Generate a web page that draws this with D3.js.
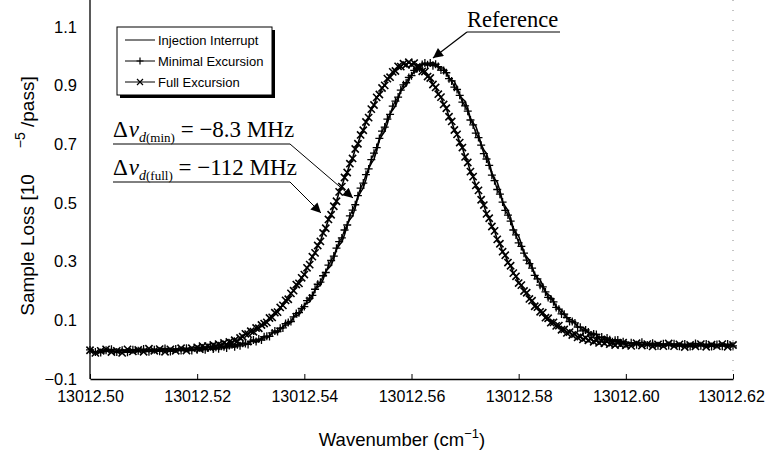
<!DOCTYPE html>
<html>
<head>
<meta charset="utf-8">
<script src="https://cdnjs.cloudflare.com/ajax/libs/d3/7.8.5/d3.min.js"></script>
<style>
  html, body { margin: 0; padding: 0; background: #fff; }
  svg { display: block; }
</style>
</head>
<body>
<svg id="chart" width="766" height="456"></svg>
<script>
// ---------------- DATA ----------------
const seriesNames = ["Injection Interrupt", "Minimal Excursion", "Full Excursion"];

const wavenumber = [
  13012.500,13012.501,13012.502,13012.503,13012.504,13012.505,13012.506,13012.507,13012.508,13012.509,
  13012.510,13012.511,13012.512,13012.513,13012.514,13012.515,13012.516,13012.517,13012.518,13012.519,
  13012.5200,13012.5205,13012.5210,13012.5215,13012.5220,13012.5225,13012.5230,13012.5235,13012.5240,13012.5245,
  13012.5250,13012.5255,13012.5260,13012.5265,13012.5270,13012.5275,13012.5280,13012.5285,13012.5290,13012.5295,
  13012.5300,13012.5305,13012.5310,13012.5315,13012.5320,13012.5325,13012.5330,13012.5335,13012.5340,13012.5345,
  13012.5350,13012.5355,13012.5360,13012.5365,13012.5370,13012.5375,13012.5380,13012.5385,13012.5390,13012.5395,
  13012.5400,13012.5405,13012.5410,13012.5415,13012.5420,13012.5425,13012.5430,13012.5435,13012.5440,13012.5445,
  13012.5450,13012.5455,13012.5460,13012.5465,13012.5470,13012.5475,13012.5480,13012.5485,13012.5490,13012.5495,
  13012.5500,13012.5505,13012.5510,13012.5515,13012.5520,13012.5525,13012.5530,13012.5535,13012.5540,13012.5545,
  13012.5550,13012.5555,13012.5560,13012.5565,13012.5570,13012.5575,13012.5580,13012.5585,13012.5590,13012.5595,
  13012.5600,13012.5605,13012.5610,13012.5615,13012.5620,13012.5625,13012.5630,13012.5635,13012.5640,13012.5645,
  13012.5650,13012.5655,13012.5660,13012.5665,13012.5670,13012.5675,13012.5680,13012.5685,13012.5690,13012.5695,
  13012.5700,13012.5705,13012.5710,13012.5715,13012.5720,13012.5725,13012.5730,13012.5735,13012.5740,13012.5745,
  13012.5750,13012.5755,13012.5760,13012.5765,13012.5770,13012.5775,13012.5780,13012.5785,13012.5790,13012.5795,
  13012.5800,13012.5805,13012.5810,13012.5815,13012.5820,13012.5825,13012.5830,13012.5835,13012.5840,13012.5845,
  13012.5850,13012.5855,13012.5860,13012.5865,13012.5870,13012.5875,13012.5880,13012.5885,13012.5890,13012.5895,
  13012.5900,13012.5905,13012.5910,13012.5915,13012.5920,13012.5925,13012.5930,13012.5935,13012.5940,13012.5945,
  13012.5950,13012.5955,13012.5960,13012.5965,13012.5970,13012.5975,13012.5980,13012.5985,13012.5990,13012.5995,
  13012.6000,
  13012.601,13012.602,13012.603,13012.604,13012.605,13012.606,13012.607,13012.608,13012.609,13012.610,
  13012.611,13012.612,13012.613,13012.614,13012.615,13012.616,13012.617,13012.618,13012.619,13012.620
];

const injectionInterrupt = [
  -0.004,-0.010,-0.001,-0.007,-0.002,-0.010,0.002,-0.007,-0.003,-0.007,0.001,-0.005,0.003,-0.007,0.000,-0.004,0.004,-0.004,0.003,-0.001,
  0.005,0.003,0.000,0.003,0.009,0.007,0.001,0.004,0.010,0.008,
  0.005,0.012,0.015,0.009,0.008,0.017,0.022,0.017,0.015,0.023,
  0.030,0.027,0.025,0.030,0.040,0.041,0.039,0.046,0.058,0.059,
  0.057,0.066,0.080,0.084,0.084,0.094,0.111,0.116,0.119,0.132,
  0.152,0.159,0.163,0.179,0.204,0.214,0.219,0.239,0.266,0.278,
  0.287,0.311,0.341,0.356,0.367,0.392,0.425,0.444,0.455,0.484,
  0.519,0.537,0.551,0.580,0.617,0.635,0.649,0.679,0.713,0.731,
  0.744,0.771,0.803,0.818,0.830,0.854,0.881,0.892,0.900,0.919,
  0.938,0.946,0.948,0.960,0.973,0.973,0.969,0.976,0.980,0.973,
  0.962,0.960,0.960,0.948,0.927,0.919,0.915,0.894,0.868,0.855,
  0.847,0.821,0.789,0.773,0.762,0.735,0.700,0.681,0.669,0.639,
  0.603,0.583,0.571,0.542,0.506,0.488,0.475,0.448,0.415,0.398,
  0.387,0.361,0.331,0.316,0.306,0.283,0.258,0.245,0.238,0.219,
  0.198,0.188,0.182,0.166,0.147,0.140,0.136,0.123,0.108,0.103,
  0.102,0.091,0.079,0.076,0.076,0.068,0.057,0.055,0.057,0.050,
  0.041,0.041,0.045,0.039,0.031,0.031,0.035,0.031,0.023,0.024,
  0.028,
  0.020,0.025,0.015,0.021,0.015,0.023,0.016,0.020,0.011,0.020,0.013,0.021,0.012,0.017,0.010,0.019,0.013,0.020,0.012,0.018
];

const minimalExcursion = [
  -0.001,-0.008,-0.010,-0.002,0.001,-0.008,-0.002,-0.009,0.000,-0.004,0.002,-0.007,0.000,-0.005,0.004,-0.006,0.002,-0.003,0.005,-0.003,
  0.000,0.006,0.004,0.000,0.007,0.010,0.002,0.008,0.003,0.012,
  0.010,0.006,0.014,0.017,0.010,0.017,0.013,0.022,0.021,0.018,
  0.028,0.033,0.028,0.036,0.033,0.044,0.046,0.045,0.057,0.064,
  0.062,0.073,0.074,0.089,0.093,0.096,0.112,0.123,0.126,0.141,
  0.147,0.167,0.176,0.185,0.206,0.223,0.230,0.252,0.263,0.288,
  0.304,0.319,0.346,0.368,0.381,0.408,0.425,0.456,0.476,0.494,
  0.525,0.551,0.568,0.597,0.616,0.648,0.670,0.689,0.720,0.745,
  0.759,0.786,0.802,0.830,0.847,0.861,0.885,0.903,0.910,0.928,
  0.934,0.952,0.958,0.960,0.972,0.977,0.971,0.977,0.968,0.973,
  0.965,0.953,0.952,0.944,0.924,0.916,0.895,0.887,0.867,0.844,
  0.831,0.813,0.783,0.766,0.738,0.723,0.697,0.668,0.650,0.628,
  0.595,0.576,0.546,0.530,0.503,0.475,0.459,0.438,0.408,0.391,
  0.364,0.352,0.329,0.305,0.293,0.278,0.253,0.241,0.220,0.214,
  0.197,0.178,0.173,0.163,0.144,0.138,0.122,0.121,0.109,0.096,
  0.096,0.091,0.077,0.076,0.064,0.067,0.060,0.050,0.053,0.052,
  0.041,0.043,0.034,0.040,0.034,0.027,0.032,0.033,0.023,0.027,
  0.020,
  0.024,0.017,0.025,0.016,0.022,0.013,0.020,0.014,0.020,0.012,0.019,0.011,0.021,0.013,0.019,0.011,0.018,0.012,0.019,0.013
];

const fullExcursion = [
  -0.002,-0.011,-0.004,0.001,-0.008,-0.004,-0.011,0.001,-0.006,-0.001,-0.007,0.003,-0.004,0.002,-0.007,0.001,-0.004,0.005,-0.003,0.005,
  0.008,0.002,0.012,0.006,0.012,0.006,0.016,0.011,0.019,0.014,
  0.023,0.018,0.026,0.024,0.032,0.029,0.040,0.044,0.054,0.053,
  0.063,0.061,0.074,0.073,0.084,0.089,0.093,0.108,0.110,0.126,
  0.128,0.144,0.151,0.168,0.172,0.192,0.201,0.222,0.226,0.245,
  0.256,0.279,0.290,0.317,0.330,0.355,0.369,0.398,0.414,0.444,
  0.460,0.489,0.506,0.538,0.556,0.587,0.604,0.634,0.652,0.684,
  0.702,0.732,0.748,0.776,0.791,0.820,0.834,0.860,0.870,0.892,
  0.901,0.924,0.929,0.947,0.950,0.966,0.965,0.975,0.971,0.980,
  0.972,0.977,0.964,0.964,0.949,0.948,0.931,0.926,0.904,0.894,
  0.871,0.861,0.836,0.823,0.794,0.778,0.749,0.734,0.706,0.689,
  0.657,0.638,0.607,0.590,0.560,0.543,0.511,0.493,0.463,0.448,
  0.420,0.405,0.376,0.361,0.334,0.322,0.297,0.286,0.261,0.250,
  0.227,0.220,0.200,0.194,0.173,0.167,0.148,0.145,0.129,0.126,
  0.109,0.107,0.092,0.093,0.081,0.082,0.068,0.069,0.057,0.060,
  0.050,0.053,0.042,0.045,0.035,0.040,0.032,0.037,0.027,0.032,
  0.023,0.029,0.022,0.028,0.019,0.024,0.016,0.023,0.017,0.024,
  0.015,
  0.013,0.022,0.014,0.019,0.011,0.018,0.012,0.021,0.012,0.018,0.009,0.016,0.011,0.019,0.010,0.017,0.012,0.019,0.010,0.016
];

const xTickValues = [13012.50, 13012.52, 13012.54, 13012.56, 13012.58, 13012.60, 13012.62];
const yTickValues = [-0.1, 0.1, 0.3, 0.5, 0.7, 0.9, 1.1];
const xDomain = [13012.50, 13012.62];
const yDomain = [-0.1, 1.1];

// ---------------- LAYOUT ----------------
const svg = d3.select("#chart");
const plot = { left: 90, right: 733, top: 27, bottom: 379 };
const x = d3.scaleLinear().domain(xDomain).range([plot.left, plot.right]);
const y = d3.scaleLinear().domain(yDomain).range([plot.bottom, plot.top]);
const sansFont = "'Liberation Sans', Arial, Helvetica, sans-serif";
const serifFont = "'Liberation Serif', 'Times New Roman', serif";

// faint right border (scan remnant)
svg.append("line")
  .attr("x1", x(xDomain[1])).attr("x2", x(xDomain[1]))
  .attr("y1", 0).attr("y2", plot.bottom)
  .attr("stroke", "#888").attr("stroke-width", 1)
  .attr("stroke-dasharray", "1,9");

// Axes
const xAxis = d3.axisBottom(x).tickValues(xTickValues).tickSizeInner(-5).tickSizeOuter(0)
  .tickPadding(12).tickFormat(d3.format(".2f"));
const gx = svg.append("g").attr("transform", `translate(0,${plot.bottom})`).call(xAxis);
gx.select(".domain").attr("stroke", "#000").attr("stroke-width", 1.3);
gx.selectAll(".tick line").attr("stroke", "#000");
gx.selectAll(".tick text").attr("font-family", sansFont).attr("font-size", 16).attr("fill", "#000")
  .attr("dx", (d, i, n) => i === n.length - 1 ? -2 : 0);

const yAxis = d3.axisLeft(y).tickValues(yTickValues).tickSize(0).tickPadding(13)
  .tickFormat(d3.format(".1f"));
const gy = svg.append("g").attr("transform", `translate(${plot.left},0)`).call(yAxis);
gy.select(".domain").remove();
gy.selectAll(".tick text").attr("font-family", sansFont).attr("font-size", 16.5).attr("fill", "#000");
svg.append("line")
  .attr("x1", plot.left).attr("x2", plot.left)
  .attr("y1", 0).attr("y2", plot.bottom)
  .attr("stroke", "#000").attr("stroke-width", 1.3);

// Axis titles
svg.append("text")
  .attr("x", 402).attr("y", 446)
  .attr("text-anchor", "middle").attr("font-family", sansFont).attr("font-size", 18.5)
  .html('Wavenumber (cm<tspan dy="-8" font-size="13">−1</tspan><tspan dy="8">)</tspan>');

svg.append("text")
  .attr("transform", "translate(34,196) rotate(-90)")
  .attr("text-anchor", "middle").attr("font-family", sansFont).attr("font-size", 19)
  .html('Sample Loss [10<tspan dx="26" dy="-9" font-size="14">−5</tspan><tspan dy="9"> /pass]</tspan>');

// ---------------- SERIES ----------------
const lineGen = vals => d3.line()
  .x((d, i) => x(wavenumber[i]))
  .y(d => y(d))(vals);

svg.append("path").attr("d", lineGen(injectionInterrupt))
  .attr("fill", "none").attr("stroke", "#000").attr("stroke-width", 1.5);

svg.append("path").attr("d", lineGen(minimalExcursion))
  .attr("fill", "none").attr("stroke", "#000").attr("stroke-width", 1.3);
const plusPath = "M-4,0H4M0,-4V4";
svg.append("g").selectAll("path").data(minimalExcursion).join("path")
  .attr("transform", (d, i) => `translate(${x(wavenumber[i])},${y(d)})`)
  .attr("d", plusPath).attr("stroke", "#000").attr("stroke-width", 1.3).attr("fill", "none");

svg.append("path").attr("d", lineGen(fullExcursion))
  .attr("fill", "none").attr("stroke", "#000").attr("stroke-width", 1.6);
const crossPath = "M-3.6,-3.6L3.6,3.6M-3.6,3.6L3.6,-3.6";
svg.append("g").selectAll("path").data(fullExcursion).join("path")
  .attr("transform", (d, i) => `translate(${x(wavenumber[i])},${y(d)})`)
  .attr("d", crossPath).attr("stroke", "#000").attr("stroke-width", 1.6).attr("fill", "none");

// ---------------- LEGEND ----------------
const lg = svg.append("g").attr("transform", "translate(117,27)");
lg.append("rect").attr("x", 3).attr("y", 3).attr("width", 155).attr("height", 68).attr("fill", "#000");
lg.append("rect").attr("x", 0).attr("y", 0).attr("width", 155).attr("height", 68)
  .attr("fill", "#fff").attr("stroke", "#000").attr("stroke-width", 1);
const legendMarks = [null, "M-3.5,0H3.5M0,-3.5V3.5", "M-3,-3L3,3M-3,3L3,-3"];
seriesNames.forEach((name, i) => {
  const ry = 13 + i * 21;
  lg.append("line").attr("x1", 8).attr("x2", 38).attr("y1", ry).attr("y2", ry)
    .attr("stroke", "#000").attr("stroke-width", 1);
  if (legendMarks[i]) {
    lg.append("path").attr("d", legendMarks[i]).attr("transform", `translate(23,${ry})`)
      .attr("stroke", "#000").attr("stroke-width", 1.2).attr("fill", "none");
  }
  lg.append("text").attr("x", 41).attr("y", ry + 4.5)
    .attr("font-family", sansFont).attr("font-size", 13).text(name);
});

// ---------------- ANNOTATIONS ----------------
const defs = svg.append("defs");
defs.append("marker").attr("id", "arrow").attr("viewBox", "0 0 10 10")
  .attr("refX", 10).attr("refY", 5).attr("markerWidth", 14).attr("markerHeight", 10)
  .attr("markerUnits", "userSpaceOnUse").attr("orient", "auto")
  .append("path").attr("d", "M0,0L10,5L0,10Z").attr("fill", "#000");

// Reference
svg.append("text").attr("x", 467).attr("y", 27)
  .attr("font-family", serifFont).attr("font-size", 22.5).text("Reference");
svg.append("line").attr("x1", 467).attr("x2", 560).attr("y1", 32).attr("y2", 32)
  .attr("stroke", "#000").attr("stroke-width", 1);
svg.append("line").attr("x1", 467).attr("y1", 32).attr("x2", 433).attr("y2", 58)
  .attr("stroke", "#000").attr("stroke-width", 1.2).attr("marker-end", "url(#arrow)");

function deltaLabel(yBase, sub, value, tip) {
  svg.append("text").attr("x", 113).attr("y", yBase)
    .attr("font-family", serifFont).attr("font-size", 23)
    .html(`Δ<tspan font-style="italic" dx="1">ν</tspan><tspan dy="5" font-size="14" font-style="italic">d</tspan><tspan font-size="13">(${sub})</tspan><tspan dy="-5"> = ${value} MHz</tspan>`);
  svg.append("polyline")
    .attr("points", `113,${yBase + 7} 290,${yBase + 7} ${tip[0]},${tip[1]}`)
    .attr("fill", "none").attr("stroke", "#000").attr("stroke-width", 1)
    .attr("marker-end", "url(#arrow)");
}
deltaLabel(137, "min", "−8.3", [353, 198]);
deltaLabel(175, "full", "−112", [321, 213]);
</script>
</body>
</html>
